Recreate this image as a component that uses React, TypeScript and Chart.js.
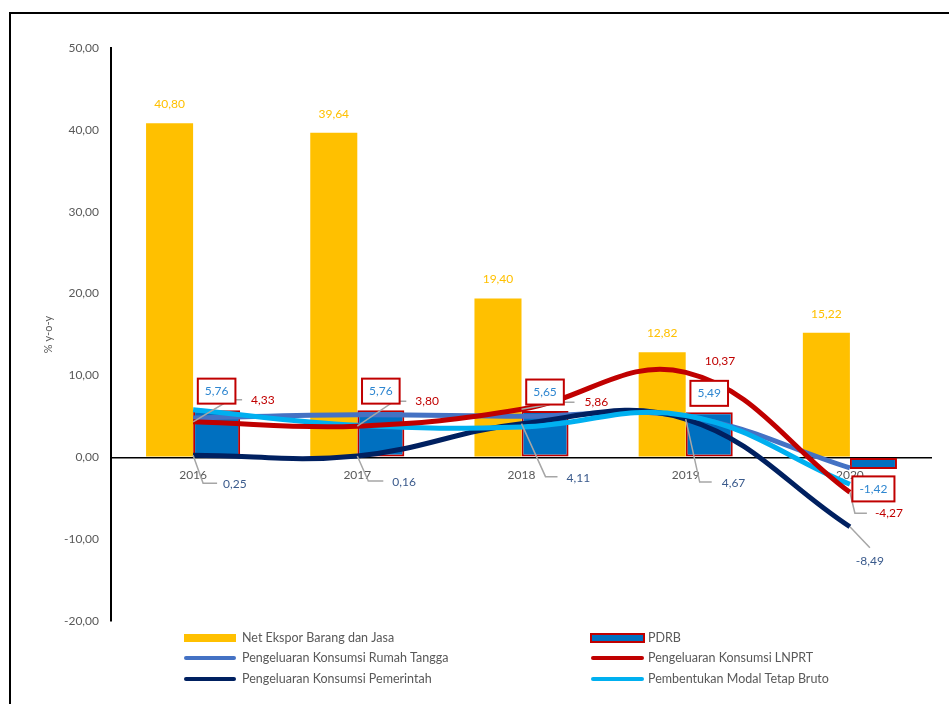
import React, { useEffect, useRef } from 'react';
import { Chart, registerables } from 'chart.js';

Chart.register(...registerables);

const years = ['2016', '2017', '2018', '2019', '2020'];
const netEkspor = [40.8, 39.64, 19.4, 12.82, 15.22];
const pdrb = [5.76, 5.76, 5.65, 5.49, -1.42];
const rumahTangga = [4.8, 5.2, 5.0, 5.0, -1.3];
const lnprt = [4.33, 3.8, 5.86, 10.37, -4.27];
const pemerintah = [0.25, 0.16, 4.11, 4.67, -8.49];
const modalTetap = [5.8, 3.9, 3.7, 5.1, -3.3];
const yMin = -20;
const yMax = 50;
const yStep = 10;

const legendNames = [
  'Net Ekspor Barang dan Jasa',
  'PDRB',
  'Pengeluaran Konsumsi Rumah Tangga',
  'Pengeluaran Konsumsi LNPRT',
  'Pengeluaran Konsumsi Pemerintah',
  'Pembentukan Modal Tetap Bruto',
];

const C_YELLOW = '#FFC000';
const C_PDRB = '#0070C0';
const C_RED = '#C00000';
const C_RT = '#4472C4';
const C_NAVY = '#002060';
const C_LIGHT = '#00B0F0';
const C_TEXT = '#595959';
const C_LEADER = '#A6A6A6';
const FONT = 'Lato, "Open Sans", sans-serif';

type LabelPlace = { leader: number[][]; tx: number; ty: number; align: CanvasTextAlign };

const lnprtPlace: LabelPlace[] = [
  { leader: [[0, 0], [37, -22], [49, -22]], tx: 58, ty: -22, align: 'left' },
  { leader: [[0, 0], [37, -25], [49, -25]], tx: 58, ty: -25, align: 'left' },
  { leader: [[0, 0], [40, -7], [53, -7]], tx: 63, ty: -7, align: 'left' },
  { leader: [], tx: 19, ty: -11, align: 'left' },
  { leader: [[0, 0], [5, 21], [17, 21]], tx: 25, ty: 21, align: 'left' },
];

const pemPlace: LabelPlace[] = [
  { leader: [[0, 0], [10, 28], [24, 28]], tx: 30, ty: 29, align: 'left' },
  { leader: [[0, 0], [11, 25], [26, 25]], tx: 35, ty: 26, align: 'left' },
  { leader: [[0, 0], [24, 53], [36, 53]], tx: 45, ty: 54, align: 'left' },
  { leader: [[0, 0], [14, 63], [26, 63]], tx: 36, ty: 64, align: 'left' },
  { leader: [[0, 0], [20, 21]], tx: 20, ty: 34, align: 'center' },
];

const fmt = (v: number) => v.toFixed(2).replace('.', ',');

const overlayPlugin = {
  id: 'overlay',
  beforeDatasetsDraw(chart: any) {
    const ctx = chart.ctx;
    const xs = chart.scales.x;
    const ys = chart.scales.y;
    const zero = ys.getPixelForValue(0);
    ctx.save();
    ctx.font = `12px ${FONT}`;
    ctx.fillStyle = C_TEXT;
    ctx.textAlign = 'center';
    ctx.textBaseline = 'middle';
    years.forEach((y, i) => {
      ctx.fillText(y, xs.getPixelForValue(i), zero + 18);
    });
    ctx.restore();
  },
  afterDatasetsDraw(chart: any) {
    const ctx = chart.ctx;
    ctx.save();
    ctx.textBaseline = 'middle';
    ctx.font = `12px ${FONT}`;

    const mNE = chart.getDatasetMeta(0);
    mNE.data.forEach((el: any, i: number) => {
      ctx.fillStyle = C_YELLOW;
      ctx.textAlign = 'center';
      ctx.fillText(fmt(netEkspor[i]), el.x, el.y - 19);
    });

    const drawPlaced = (dsIndex: number, values: number[], places: LabelPlace[], color: string) => {
      const meta = chart.getDatasetMeta(dsIndex);
      meta.data.forEach((el: any, i: number) => {
        const p = places[i];
        if (p.leader.length) {
          ctx.strokeStyle = C_LEADER;
          ctx.lineWidth = 1.5;
          ctx.beginPath();
          p.leader.forEach((pt, k) => {
            if (k === 0) ctx.moveTo(el.x + pt[0], el.y + pt[1]);
            else ctx.lineTo(el.x + pt[0], el.y + pt[1]);
          });
          ctx.stroke();
        }
        ctx.fillStyle = color;
        ctx.textAlign = p.align;
        ctx.fillText(fmt(values[i]), el.x + p.tx, el.y + p.ty);
      });
    };
    drawPlaced(3, lnprt, lnprtPlace, C_RED);
    drawPlaced(4, pemerintah, pemPlace, '#3A5A8C');

    const mP = chart.getDatasetMeta(1);
    mP.data.forEach((el: any, i: number) => {
      const v = pdrb[i];
      const t = fmt(v);
      const w = ctx.measureText(t).width + 14;
      const h = 25;
      const cy = v >= 0 ? el.y - 19 : el.y + 20;
      ctx.fillStyle = '#FFFFFF';
      ctx.fillRect(el.x - w / 2, cy - h / 2, w, h);
      ctx.strokeStyle = C_RED;
      ctx.lineWidth = 2;
      ctx.strokeRect(el.x - w / 2, cy - h / 2, w, h);
      ctx.fillStyle = '#2E86D0';
      ctx.textAlign = 'center';
      ctx.fillText(t, el.x, cy);
    });
    ctx.restore();
  },
  afterDraw(chart: any) {
    const ctx = chart.ctx;
    ctx.save();
    ctx.strokeStyle = '#000';
    ctx.lineWidth = 2;
    ctx.beginPath();
    ctx.moveTo(10, 704);
    ctx.lineTo(10, 13);
    ctx.lineTo(949, 13);
    ctx.stroke();

    const cols = [
      { sx: 184, ex: 236, tx: 242 },
      { sx: 591, ex: 644, tx: 648 },
    ];
    const rows = [638, 658, 679];
    const kinds = [
      { type: 'bar', color: C_YELLOW },
      { type: 'barB', color: C_PDRB },
      { type: 'line', color: C_RT },
      { type: 'line', color: C_RED },
      { type: 'line', color: C_NAVY },
      { type: 'line', color: C_LIGHT },
    ];
    ctx.font = `12.5px ${FONT}`;
    ctx.textBaseline = 'middle';
    ctx.textAlign = 'left';
    legendNames.forEach((name, i) => {
      const c = cols[i % 2];
      const y = rows[Math.floor(i / 2)];
      const k = kinds[i];
      if (k.type === 'bar') {
        ctx.fillStyle = k.color;
        ctx.fillRect(c.sx, y - 4, c.ex - c.sx, 8);
      } else if (k.type === 'barB') {
        ctx.fillStyle = k.color;
        ctx.fillRect(c.sx, y - 4, c.ex - c.sx, 8);
        ctx.strokeStyle = C_RED;
        ctx.lineWidth = 2;
        ctx.strokeRect(c.sx, y - 4, c.ex - c.sx, 8);
      } else {
        ctx.strokeStyle = k.color;
        ctx.lineWidth = 4;
        ctx.lineCap = 'round';
        ctx.beginPath();
        ctx.moveTo(c.sx + 2, y);
        ctx.lineTo(c.ex - 2, y);
        ctx.stroke();
      }
      ctx.fillStyle = C_TEXT;
      ctx.fillText(name, c.tx, y);
    });
    ctx.restore();
  },
};

export default function App() {
  const ref = useRef<HTMLCanvasElement>(null);
  useEffect(() => {
    document.body.style.margin = '0';
    if (!ref.current) return;
    const lineDs = (label: string, data: number[], color: string, order: number) => ({
      type: 'line' as const,
      label,
      data,
      borderColor: color,
      backgroundColor: color,
      borderWidth: 5,
      pointRadius: 0,
      pointHoverRadius: 0,
      tension: 0.4,
      fill: false,
      order,
    });
    const chart = new Chart(ref.current, {
      type: 'bar',
      data: {
        labels: years,
        datasets: [
          {
            type: 'bar',
            label: legendNames[0],
            data: netEkspor,
            backgroundColor: C_YELLOW,
            borderWidth: 0,
            categoryPercentage: 0.573,
            barPercentage: 1,
            order: 10,
          },
          {
            type: 'bar',
            label: legendNames[1],
            data: pdrb,
            backgroundColor: C_PDRB,
            borderColor: C_RED,
            borderWidth: 2,
            borderSkipped: false,
            categoryPercentage: 0.573,
            barPercentage: 1,
            order: 11,
          },
          lineDs(legendNames[2], rumahTangga, C_RT, 4),
          lineDs(legendNames[3], lnprt, C_RED, 1),
          lineDs(legendNames[4], pemerintah, C_NAVY, 3),
          lineDs(legendNames[5], modalTetap, C_LIGHT, 2),
        ] as any,
      },
      options: {
        animation: false,
        responsive: false,
        maintainAspectRatio: false,
        layout: { padding: { left: 0, top: 48, right: 17, bottom: 83 } },
        plugins: {
          legend: { display: false },
          tooltip: { enabled: false },
        },
        scales: {
          x: { display: false },
          y: {
            min: yMin,
            max: yMax,
            afterFit: (s: any) => {
              s.width = 111;
            },
            ticks: {
              stepSize: yStep,
              padding: 12,
              color: C_TEXT,
              font: { family: FONT, size: 12 },
              callback: (v: any) => fmt(Number(v)),
            },
            grid: {
              drawTicks: false,
              color: (c: any) => (c.tick && c.tick.value === 0 ? '#000000' : 'rgba(0,0,0,0)'),
              lineWidth: 1.5,
            },
            border: { display: true, color: '#000', width: 2 },
            title: {
              display: true,
              text: '% y-o-y',
              color: C_TEXT,
              font: { family: FONT, size: 11 },
              padding: { top: 42, bottom: 0 },
            },
          },
        },
      },
      plugins: [overlayPlugin],
    });
    return () => chart.destroy();
  }, []);
  return <canvas ref={ref} width={949} height={704} style={{ display: 'block' }} />;
}
